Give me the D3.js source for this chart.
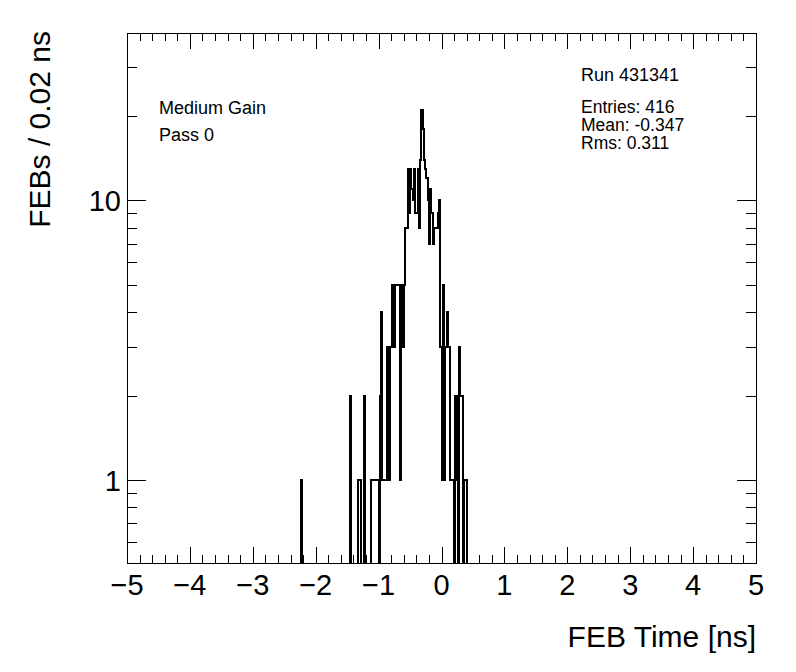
<!DOCTYPE html>
<html>
<head>
<meta charset="utf-8">
<script src="https://cdn.jsdelivr.net/npm/d3@7"></script>
<style>
  html, body { margin: 0; padding: 0; background: #fff; }
  svg { display: block; }
  text { font-family: "Liberation Sans", Arial, Helvetica, sans-serif; fill: #000; }
</style>
</head>
<body>
<svg id="chart" width="796" height="672"></svg>
<script>
// ---- data ----
const histRange = [-5, 5];
const binWidth = 0.02;
const binLowEdges = [
  -2.24, -1.46, -1.32, -1.30, -1.24,
  -1.12, -1.10, -1.08, -1.06, -1.04, -1.02,
  -0.98, -0.96, -0.94, -0.92, -0.90, -0.88, -0.86, -0.84, -0.82, -0.80,
  -0.78, -0.76, -0.74, -0.72, -0.70, -0.68, -0.66, -0.64, -0.62, -0.60,
  -0.58, -0.56, -0.54, -0.52, -0.50, -0.48, -0.46, -0.44, -0.42, -0.40,
  -0.38, -0.36, -0.34, -0.32, -0.30, -0.28, -0.26, -0.24, -0.22, -0.20,
  -0.18, -0.16, -0.14, -0.12, -0.10, -0.08, -0.06, -0.04, -0.02, 0.00,
  0.02, 0.04, 0.06, 0.08, 0.10, 0.12, 0.14, 0.16, 0.18,
  0.22, 0.24, 0.28, 0.30, 0.32, 0.36, 0.38
];
const binCounts = [
  1, 2, 1, 1, 2,
  1, 1, 1, 1, 1, 1,
  2, 4, 1, 1, 1, 1, 3, 1, 3, 3,
  5, 3, 5, 5, 5, 5, 1, 5, 3, 5,
  8, 8, 13, 9, 13, 11, 10, 13, 9, 9,
  13, 8, 14, 21, 18, 14, 13, 12, 10, 7,
  11, 9, 7, 8, 8, 8, 9, 10, 3, 1,
  5, 1, 3, 4, 3, 3, 1, 1, 1,
  2, 1, 3, 2, 2, 1, 1
];
const xMajorTicks = [-5, -4, -3, -2, -1, 0, 1, 2, 3, 4, 5];
const yMajorTicks = [1, 10];
const yMinorTicks = [0.6, 0.7, 0.8, 0.9, 2, 3, 4, 5, 6, 7, 8, 9, 20, 30];
const yDomain = [0.505, 39.7];
const xTitle = "FEB Time [ns]";
const yTitle = "FEBs / 0.02 ns";
const leftLabels = ["Medium Gain", "Pass 0"];
const runLabel = "Run 431341";
const statsLines = ["Entries: 416", "Mean: -0.347", "Rms: 0.311"];

// ---- layout ----
const frame = { l: 127, r: 756, t: 33, b: 563 };
const svg = d3.select("#chart");

const x = d3.scaleLinear().domain(histRange).range([frame.l, frame.r]);
const y = d3.scaleLog().domain(yDomain).range([frame.b, frame.t]);

// full histogram of 500 bins
const nBins = Math.round((histRange[1] - histRange[0]) / binWidth);
const counts = new Array(nBins).fill(0);
binLowEdges.forEach((e, k) => {
  const i = Math.round((e - histRange[0]) / binWidth);
  counts[i] = binCounts[k];
});

// clip to frame
svg.append("defs").append("clipPath").attr("id", "fr")
  .append("rect").attr("x", frame.l).attr("y", frame.t)
  .attr("width", frame.r - frame.l).attr("height", frame.b - frame.t);

// histogram step path
const yv = c => c > 0 ? y(c) : frame.b + 2;
let p = `M${x(histRange[0])},${frame.b + 2}`;
counts.forEach((c, i) => {
  const x0 = x(histRange[0] + i * binWidth);
  const x1 = x(histRange[0] + (i + 1) * binWidth);
  p += `L${x0},${yv(c)}L${x1},${yv(c)}`;
});
p += `L${x(histRange[1])},${frame.b + 2}`;
svg.append("path")
  .attr("d", p)
  .attr("clip-path", "url(#fr)")
  .attr("fill", "none")
  .attr("stroke", "#000")
  .attr("stroke-width", 2)
  .attr("shape-rendering", "crispEdges");

// frame
svg.append("rect")
  .attr("x", frame.l + 0.5).attr("y", frame.t + 0.5)
  .attr("width", frame.r - frame.l).attr("height", frame.b - frame.t)
  .attr("fill", "none").attr("stroke", "#000").attr("stroke-width", 1)
  .attr("shape-rendering", "crispEdges");

const tickG = svg.append("g").attr("stroke", "#000").attr("stroke-width", 1)
  .attr("shape-rendering", "crispEdges");

// x ticks (bottom and top)
const xMinor = d3.range(0, 51).map(k => histRange[0] + k * 0.2);
const xMajLen = 16, xMinLen = 8;
xMinor.forEach(v => {
  const isMaj = xMajorTicks.some(t => Math.abs(t - v) < 1e-6);
  const len = isMaj ? xMajLen : xMinLen;
  const xx = Math.round(x(v)) + 0.5;
  tickG.append("line").attr("x1", xx).attr("x2", xx)
    .attr("y1", frame.b).attr("y2", frame.b - len);
  tickG.append("line").attr("x1", xx).attr("x2", xx)
    .attr("y1", frame.t).attr("y2", frame.t + len);
});

// y ticks (left and right)
const yMajLen = 19, yMinLen = 10;
yMajorTicks.concat(yMinorTicks).forEach(v => {
  const isMaj = yMajorTicks.includes(v);
  const len = isMaj ? yMajLen : yMinLen;
  const yy = Math.round(y(v)) + 0.5;
  tickG.append("line").attr("x1", frame.l).attr("x2", frame.l + len)
    .attr("y1", yy).attr("y2", yy);
  tickG.append("line").attr("x1", frame.r).attr("x2", frame.r - len)
    .attr("y1", yy).attr("y2", yy);
});

// tick labels
const fmt = d3.format("d");
svg.append("g").selectAll("text").data(xMajorTicks).join("text")
  .attr("x", d => x(d)).attr("y", 595)
  .attr("text-anchor", "middle")
  .attr("font-size", 29)
  .text(d => fmt(d));

svg.append("g").selectAll("text").data(yMajorTicks).join("text")
  .attr("x", 121).attr("y", d => y(d) + 11)
  .attr("text-anchor", "end")
  .attr("font-size", 29)
  .text(d => fmt(d));

// axis titles
svg.append("text")
  .attr("x", frame.r).attr("y", 647)
  .attr("text-anchor", "end")
  .attr("font-size", 30)
  .text(xTitle);

svg.append("text")
  .attr("transform", `translate(50,${frame.t - 2}) rotate(-90)`)
  .attr("text-anchor", "end")
  .attr("font-size", 30)
  .text(yTitle);

// in-frame labels
svg.append("g").selectAll("text").data(leftLabels).join("text")
  .attr("x", 159).attr("y", (d, i) => 114 + i * 27)
  .attr("font-size", 18)
  .text(d => d);

svg.append("text").attr("x", 581).attr("y", 81)
  .attr("font-size", 18).text(runLabel);

svg.append("g").selectAll("text").data(statsLines).join("text")
  .attr("x", 581).attr("y", (d, i) => 113 + i * 18.2)
  .attr("font-size", 17.5)
  .text(d => d);
</script>
</body>
</html>
